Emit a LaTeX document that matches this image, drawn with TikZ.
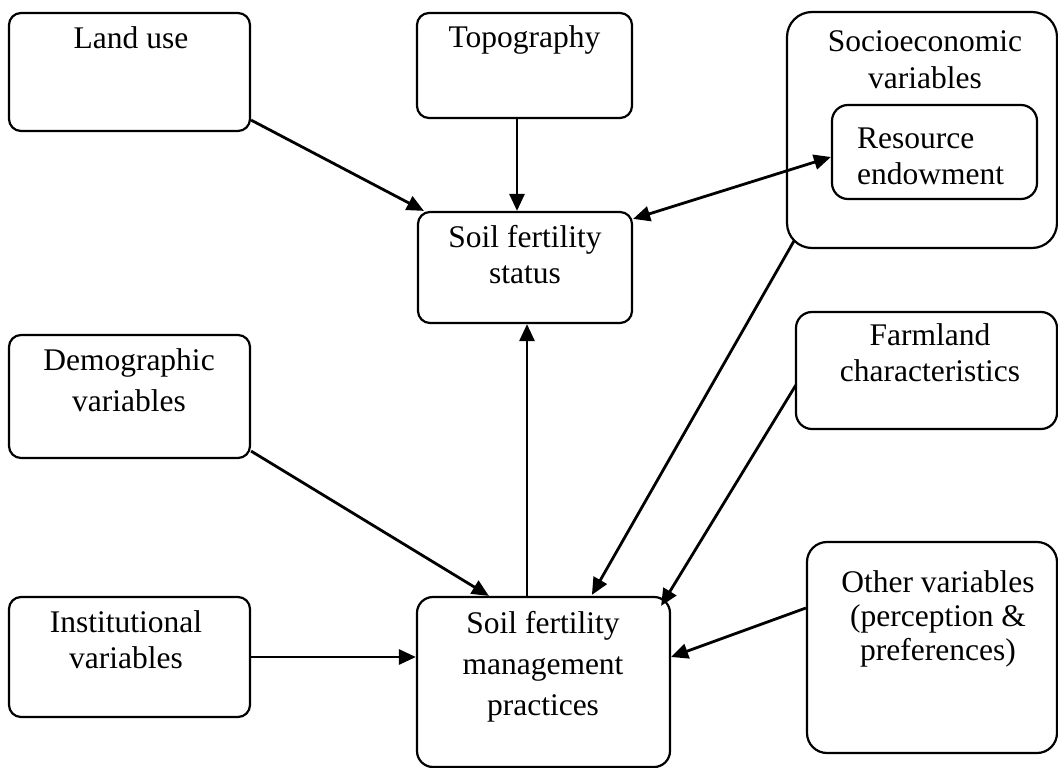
\documentclass[tikz,border=0pt]{standalone}
\usepackage{fontspec}
\setmainfont{Liberation Serif}
\usetikzlibrary{arrows.meta,calc}
\newcommand{\lbl}[2][c]{\begin{tabular}[t]{@{}#1@{}}#2\end{tabular}}
\begin{document}
\begin{tikzpicture}[x=1pt,y=-1pt,
  box/.style={draw,line width=2.2pt,rounded corners=12pt,inner sep=0pt,minimum width=#1},
  box/.default=10pt,
  txt/.style={anchor=base,inner sep=0pt,font=\fontsize{31.5}{36.5}\selectfont},
  wide/.style={font=\fontsize{31.5}{41}\selectfont},
  con/.style={line width=2.8pt,-{Triangle[length=17pt,width=15pt]}},
  dcon/.style={line width=2.8pt,{Triangle[length=17pt,width=15pt]}-{Triangle[length=17pt,width=15pt]}}]
\useasboundingbox (0,0) rectangle (1058,768);
% boxes
\node[box=241pt,minimum height=118pt] (land) at (129.5,72) {};
\node[box=215pt,minimum height=105pt] (topo) at (524.5,65.5) {};
\node[box=270pt,minimum height=236pt,rounded corners=25pt] (socio) at (922,130) {};
\node[box=205pt,minimum height=94pt,rounded corners=16pt] (res) at (934.5,152) {};
\node[box=214pt,minimum height=111pt] (status) at (525,267.5) {};
\node[box=241pt,minimum height=123pt] (demo) at (129.5,396.5) {};
\node[box=261pt,minimum height=117pt,rounded corners=16pt] (farm) at (926.5,370.5) {};
\node[box=241pt,minimum height=120pt] (inst) at (129.5,657) {};
\node[box=253pt,minimum height=170pt,rounded corners=16pt] (mgmt) at (543.5,682) {};
\node[box=250pt,minimum height=211pt,rounded corners=20pt] (other) at (932,647.5) {};
% labels
\node[txt] (tland) at (131,49) {\lbl{Land use}};
\node[txt] (ttopo) at (524.5,48) {\lbl{Topography}};
\node[txt] (tsocio) at (925,52) {\lbl{Socioeconomic\\variables}};
\node[txt,anchor=base west] (tres) at (857,148) {\lbl[l]{Resource\\endowment}};
\node[txt] (tstatus) at (525,247) {\lbl{Soil fertility\\status}};
\node[txt,wide] (tdemo) at (129,370) {\lbl{Demographic\\variables}};
\node[txt] (tfarm) at (930,345) {\lbl{Farmland\\characteristics}};
\node[txt] (tinst) at (126,632) {\lbl{Institutional\\variables}};
\node[txt,wide] (tmgmt) at (543,633) {\lbl{Soil fertility\\management\\practices}};
\node[txt,font=\fontsize{31.5}{34}\selectfont] (tother) at (938,592) {\lbl{Other variables\\(perception \&\\preferences)}};
% connectors
\draw[con] ($(land.south east)+(0,-12)$) -- ($(status.north west)+(7,0)$);
\draw[con] ([xshift=-7.5pt]topo.south) -- ([xshift=-7.5pt]topo.south |- status.north);
\draw[dcon] ($(status.north east)+(0,8)$) -- ($(res.west)+(0,5)$);
\draw[con] ([xshift=-16.5pt]mgmt.north) -- ([xshift=-16.5pt]mgmt.north |- status.south);
\draw[con] ($(demo.south east)+(0,-8)$) -- ($(mgmt.north west)+(73,0)$);
\draw[con] ($(socio.south west)+(8,-8)$) -- ($(mgmt.north west)+(176,-1)$);
\draw[con] ($(farm.west)+(1,14.5)$) -- ($(mgmt.north east)+(-10,10)$);
\draw[con] (inst.east) -- (inst.east -| mgmt.west);
\draw[con] ($(other.west)+(0,-39.5)$) -- ($(mgmt.east)+(0,-25)$);
\end{tikzpicture}
\end{document}
